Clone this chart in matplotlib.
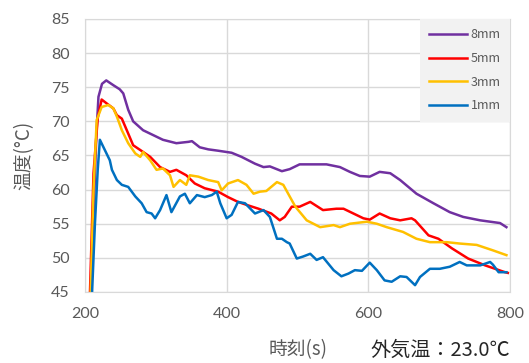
import matplotlib.pyplot as plt

plt.rcParams['font.family'] = ['Noto Sans CJK JP', 'DejaVu Sans']

# time (s) and temperature (°C) per sensor depth
t_8mm = [208, 212, 216, 219, 224, 230, 240, 249, 254, 261, 268, 282, 296, 310, 329, 346, 351, 362, 374,
         388, 407, 421, 440, 452, 461, 478, 489, 503, 522, 541, 560, 574, 588, 602, 616, 631, 645, 668,
         692, 715, 734, 758, 786, 795]
temp_8mm = [45, 56, 68, 73.6, 75.5, 76.0, 75.3, 74.7, 74.1, 71.7, 70.0, 68.7, 68.0, 67.3, 66.8, 67.0, 67.1,
            66.2, 65.9, 65.7, 65.4, 64.8, 63.8, 63.3, 63.4, 62.7, 63.0, 63.7, 63.7, 63.7, 63.3, 62.6, 62.0,
            61.9, 62.6, 62.4, 61.4, 59.4, 58.0, 56.7, 56.0, 55.5, 55.1, 54.5]

t_5mm = [207, 212, 218, 223.5, 231, 240, 245, 252, 259, 268, 278, 292, 306, 320, 329, 343, 355, 369, 388,
         402, 416, 430, 445, 463, 475, 482, 492, 503, 518, 536, 555, 565, 579, 593, 602, 616, 631, 645,
         661, 666, 685, 699, 718, 741, 765, 793, 797]
temp_5mm = [45, 62.4, 70.5, 73.2, 72.6, 71.9, 70.9, 70.4, 68.7, 66.5, 65.8, 64.8, 63.3, 62.6, 62.9, 62.1,
            60.9, 60.2, 59.7, 58.9, 58.2, 57.7, 57.2, 56.5, 55.5, 56.0, 57.5, 57.5, 58.2, 57.0, 57.2, 57.2,
            56.5, 55.8, 55.6, 56.5, 55.8, 55.5, 55.8, 55.5, 53.3, 52.8, 51.4, 49.9, 48.9, 47.9, 47.8]

t_3mm = [208, 212, 216.5, 223.5, 233, 240, 245, 252, 261, 271, 278, 282, 292, 301, 310, 320, 325, 334,
         343, 348, 360, 374, 388, 393, 402, 416, 428, 438, 447, 456, 471, 480, 489, 497, 513, 532, 551,
         560, 574, 598, 612, 626, 649, 668, 687, 711, 729, 753, 776, 795]
temp_3mm = [45, 60, 70.2, 72.1, 72.4, 71.9, 70.7, 68.7, 66.8, 65.3, 64.8, 65.5, 64.3, 62.9, 63.1, 62.1,
            60.4, 61.4, 60.7, 62.1, 61.9, 61.4, 61.1, 59.9, 60.9, 61.4, 60.7, 59.4, 59.7, 59.8, 61.1, 60.7,
            59.0, 57.5, 55.5, 54.5, 54.8, 54.5, 55.0, 55.3, 55.0, 54.5, 53.8, 52.8, 52.3, 52.3, 52.1, 51.9,
            51.1, 50.4]

t_1mm = [210, 214, 218, 221, 228, 235, 238, 245, 252, 261, 271, 280, 287, 294, 299, 306, 315, 322, 334,
         341, 348, 358, 369, 379, 386, 391, 400, 407, 416, 426, 440, 452, 461, 471, 478, 485, 489, 499,
         508, 518, 527, 536, 551, 562, 572, 581, 591, 602, 612, 623, 633, 645, 654, 666, 673, 687, 701,
         715, 729, 739, 758, 772, 776, 784, 795]
temp_1mm = [45, 55, 63, 67.3, 65.8, 64.3, 62.9, 61.4, 60.7, 60.4, 59.0, 58.0, 56.7, 56.5, 55.8, 57.0,
            59.2, 56.7, 59.0, 59.4, 58.0, 59.2, 58.9, 59.2, 59.7, 58.0, 55.8, 56.3, 58.2, 58.0, 56.5, 57.0,
            56.0, 52.8, 52.8, 52.3, 52.1, 49.9, 50.2, 50.6, 49.7, 50.1, 48.2, 47.3, 47.7, 48.2, 48.1, 49.3,
            48.2, 46.7, 46.5, 47.3, 47.2, 46.0, 47.2, 48.4, 48.4, 48.7, 49.4, 48.9, 48.9, 49.4, 49.0, 47.9,
            47.9]

x_ticks = [200, 400, 600, 800]
y_ticks = [45, 50, 55, 60, 65, 70, 75, 80, 85]

fig = plt.figure(figsize=(5.29, 3.63), dpi=100)
ax = fig.add_axes([0.1607, 0.1956, 0.8033, 0.7521])

ax.plot(t_8mm, temp_8mm, color='#7030a0', lw=1.8, label='8mm')
ax.plot(t_5mm, temp_5mm, color='#ff0000', lw=1.8, label='5mm')
ax.plot(t_3mm, temp_3mm, color='#ffc000', lw=1.8, label='3mm')
ax.plot(t_1mm, temp_1mm, color='#0070c0', lw=1.8, label='1mm')

ax.set_xlim(200, 800)
ax.set_ylim(45, 85)
ax.set_xticks(x_ticks)
ax.set_yticks(y_ticks)
ax.grid(color='#d9d9d9', lw=1)
ax.set_axisbelow(True)
for s in ax.spines.values():
    s.set_color('#d9d9d9')
ax.tick_params(length=0, labelsize=11.5, labelcolor='#595959', pad=11)
for lbl in ax.get_xticklabels() + ax.get_yticklabels():
    lbl.set_family(['Lato', 'DejaVu Sans'])

leg = ax.legend(loc='upper right', fontsize=9, frameon=True, fancybox=False,
                borderaxespad=0, handlelength=3.0, labelspacing=0.85,
                borderpad=0.75, handletextpad=0.3)
leg.get_frame().set_facecolor('#f2f2f2')
leg.get_frame().set_edgecolor('none')
leg.get_frame().set_alpha(1)
for t in leg.get_texts():
    t.set_color('#595959')

fig.text(24 / 529, 1 - 155 / 363, '温度(°C)', rotation=90, ha='center', va='center',
         fontsize=13.5, color='#595959')
fig.text(298 / 529, 1 - 350 / 363, '時刻(s)', ha='center', va='center',
         fontsize=13.5, color='#595959')
fig.text(440 / 529, 1 - 350 / 363, '外気温：23.0℃', ha='center', va='center',
         fontsize=14.5, color='#262626')

fig.savefig('out.png', dpi=100)
